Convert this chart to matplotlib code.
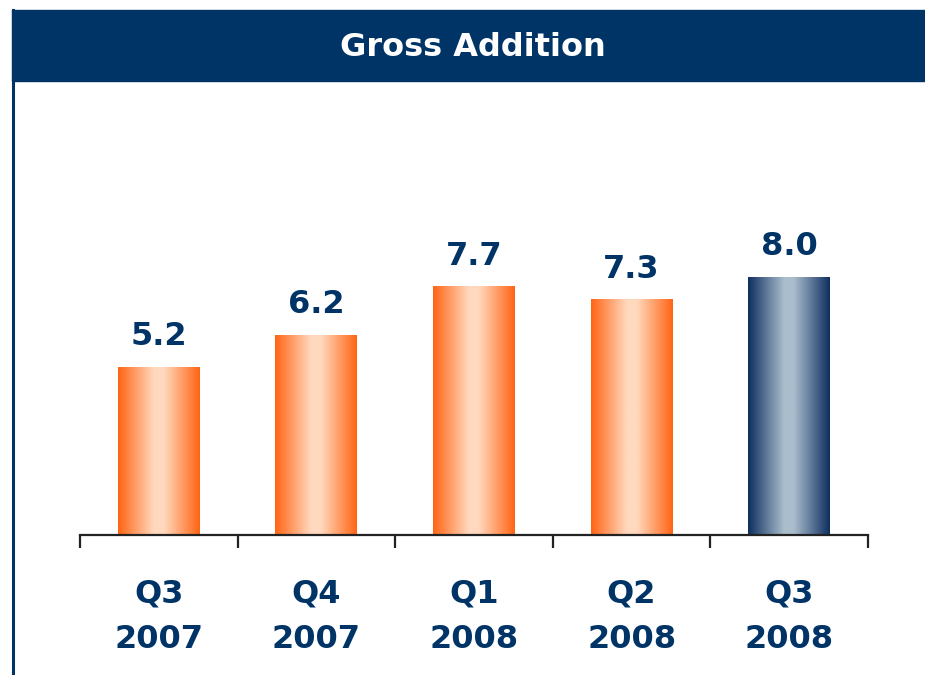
import numpy as np
import matplotlib
matplotlib.use("Agg")
import matplotlib.pyplot as plt
from matplotlib.patches import Rectangle
from matplotlib.lines import Line2D
from matplotlib.colors import to_rgb

quarters = ["Q3\n2007", "Q4\n2007", "Q1\n2008", "Q2\n2008", "Q3\n2008"]
values = [5.2, 6.2, 7.7, 7.3, 8.0]
highlight = [False, False, False, False, True]

navy = "#003366"
orange_edge, orange_mid = "#FF6414", "#FFD9BE"
blue_edge, blue_mid = "#0E2F60", "#AABDCC"


def gradient(edge, mid, n=200):
    t = np.abs(np.linspace(-1, 1, n))
    w = np.clip((t - 0.12) / 0.88, 0, 1) ** 1.0
    e, m = np.array(to_rgb(edge)), np.array(to_rgb(mid))
    row = m[None, :] * (1 - w[:, None]) + e[None, :] * w[:, None]
    return row[None, :, :]


fig = plt.figure(figsize=(9.25, 6.75), dpi=100)
W, H = 925, 675

# title bar and left border
fig.patches.append(Rectangle((12 / W, 1 - 81 / H), 1 - 12 / W, 71 / H,
                             transform=fig.transFigure, color=navy, zorder=0))
fig.lines.append(Line2D([13 / W, 13 / W], [0, 1 - 10 / H], transform=fig.transFigure,
                        color=navy, lw=2.2))
fig.text(473 / W, 1 - 56 / H, "Gross Addition", color="white", fontsize=23,
         fontweight="bold", ha="center", va="baseline")

ax = fig.add_axes([80 / W, 1 - 535 / H, 788 / W, 435 / H])
x = np.arange(len(values))
width = 0.52
for xi, v, hl in zip(x, values, highlight):
    img = gradient(blue_edge, blue_mid) if hl else gradient(orange_edge, orange_mid)
    ax.imshow(img, extent=[xi - width / 2, xi + width / 2, 0, v], aspect="auto",
              interpolation="bilinear", zorder=2)
    ax.annotate(f"{v:.1f}", (xi, v), xytext=(0, 16), textcoords="offset points",
                ha="center", va="baseline", fontsize=23, fontweight="bold", color=navy)

ax.set_xlim(-0.5, len(values) - 0.5)
ax.set_ylim(0, 13.5)
for s in ["top", "right", "left"]:
    ax.spines[s].set_visible(False)
ax.spines["bottom"].set_linewidth(1.6)
ax.spines["bottom"].set_color("#222222")
ax.set_yticks([])
ax.set_xticks(x)
ax.set_xticklabels(quarters, fontsize=23, fontweight="bold", color=navy, linespacing=1.62)
ax.tick_params(axis="x", which="major", length=0, pad=31)
ax.set_xticks(np.arange(-0.5, len(values)), minor=True)
ax.tick_params(axis="x", which="minor", length=9.5, width=1.6, color="#222222", direction="out")
ax.patch.set_visible(False)

fig.savefig("out.png", dpi=100)
